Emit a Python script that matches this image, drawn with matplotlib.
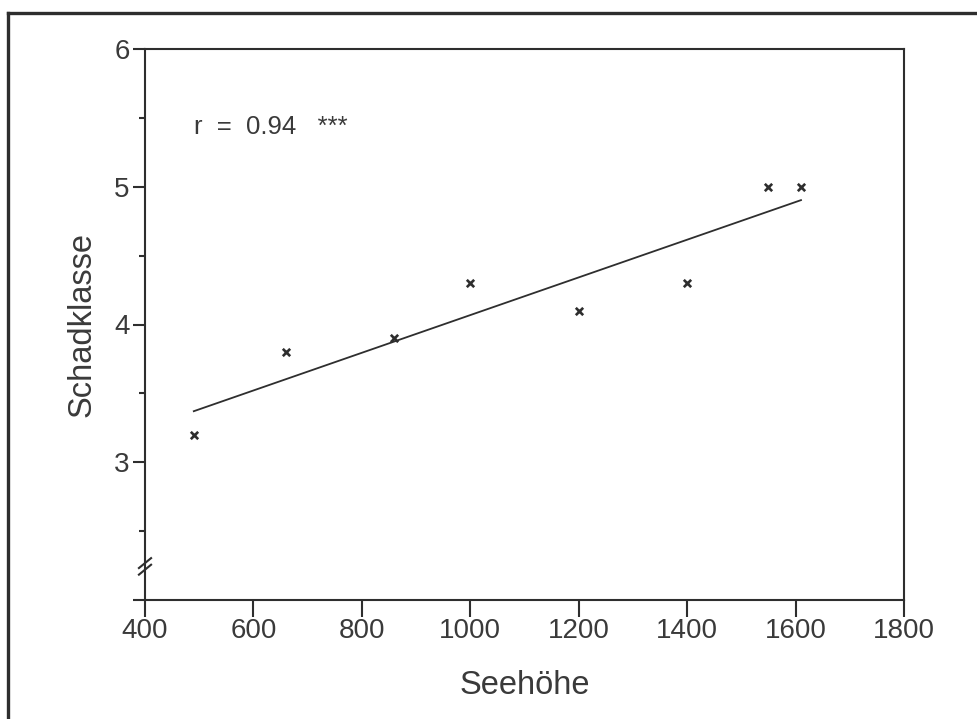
"""Schadklasse gegen Seehöhe mit Regressionsgerade"""

import numpy as np
import matplotlib.pyplot as plt
from matplotlib.lines import Line2D

seehoehe = [490, 660, 860, 1000, 1200, 1400, 1550, 1610]
schadklasse = [3.2, 3.8, 3.9, 4.3, 4.1, 4.3, 5.0, 5.0]
x_ticks = [400, 600, 800, 1000, 1200, 1400, 1600, 1800]
y_ticks = [2, 3, 4, 5, 6]
y_tick_labels = ["", "3", "4", "5", "6"]
y_minor = [2.5, 3.5, 4.5, 5.5]
r_text = "r  =  0.94   ***"

ink = "#2e2e2e"
plt.rcParams["font.family"] = ["Liberation Sans", "DejaVu Sans"]

fig = plt.figure(figsize=(9.77, 7.19), dpi=100)
ax = fig.add_axes([145 / 977, 119 / 719, 759 / 977, 551 / 719])

ax.scatter(seehoehe, schadklasse, marker="x", s=28, linewidths=1.9,
           color=ink, zorder=3)

# Regressionsgerade über den Datenbereich
slope, intercept = np.polyfit(seehoehe, schadklasse, 1)
xs = np.array([min(seehoehe), max(seehoehe)])
ax.plot(xs, slope * xs + intercept, color=ink, lw=1.3)

ax.set_xlim(400, 1800)
ax.set_ylim(2, 6)
ax.set_xticks(x_ticks)
ax.set_yticks(y_ticks)
ax.set_yticklabels(y_tick_labels)
ax.set_yticks(y_minor, minor=True)

for sp in ax.spines.values():
    sp.set_color(ink)
    sp.set_linewidth(1.5)

ax.tick_params(axis="both", which="major", direction="out", length=9,
               width=1.5, color=ink, labelsize=20, labelcolor="#3a3a3a",
               pad=2)
ax.tick_params(axis="x", which="major", length=12, pad=1)
ax.tick_params(axis="y", which="minor", direction="out", length=4,
               width=1.5, color=ink)

ax.set_xlabel("Seehöhe", fontsize=23.5, color="#3a3a3a", labelpad=19)
ax.set_ylabel("Schadklasse", fontsize=23.5, color="#3a3a3a", labelpad=12)

ax.text(0.064, 0.858, r_text, transform=ax.transAxes, fontsize=18.5,
        color="#3a3a3a", ha="left", va="center")

# Achsenbruch auf der y-Achse
for dy in (0.0, 0.012):
    ax.plot([-0.008, 0.008], [0.046 + dy, 0.064 + dy],
            transform=ax.transAxes, color=ink, lw=1.5, clip_on=False)

# Rahmen um die ganze Abbildung
fig.add_artist(Line2D([8 / 977, 1.0], [1 - 13 / 719, 1 - 13 / 719],
                      transform=fig.transFigure, color=ink, lw=2.4))
fig.add_artist(Line2D([8 / 977, 8 / 977], [0.0, 1 - 13 / 719],
                      transform=fig.transFigure, color=ink, lw=2.4))

plt.savefig("out.png", dpi=100)
plt.close()
